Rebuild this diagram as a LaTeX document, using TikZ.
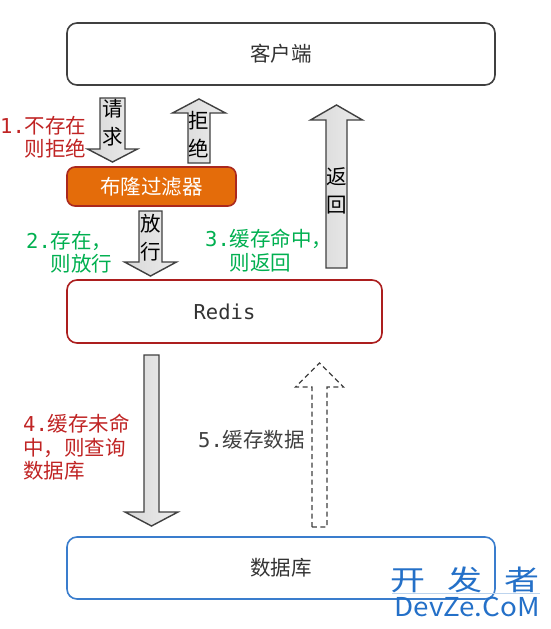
\documentclass[tikz,border=0pt]{standalone}
\usepackage{fontspec}
\setmainfont{Noto Sans CJK SC}
\newfontfamily\monof{DejaVu Sans Mono}
\definecolor{clientline}{RGB}{64,64,64}
\definecolor{bloomfill}{RGB}{228,108,10}
\definecolor{bloomline}{RGB}{170,40,30}
\definecolor{redisline}{RGB}{172,30,30}
\definecolor{dbline}{RGB}{58,125,205}
\definecolor{boxtext}{RGB}{51,51,51}
\definecolor{arrowline}{RGB}{64,64,64}
\definecolor{arrowfill}{RGB}{216,216,216}
\definecolor{arrowfillb}{RGB}{236,236,236}
\definecolor{lblred}{RGB}{192,36,36}
\definecolor{lblgreen}{RGB}{0,176,80}
\definecolor{lblgray}{RGB}{64,64,64}
\definecolor{wmblue}{RGB}{36,112,200}
\newcommand\lblfont{\fontsize{20.5}{23.5}\selectfont}
\newcommand\arrfont{\fontsize{20.5}{28}\selectfont}
\newcommand\mkarrow[7]{%
  \draw[#1] ({#2-#4},#3) -- ({#2-#4},#6) -- ({#2-#5},#6) -- (#2,#7) -- ({#2+#5},#6) -- ({#2+#4},#6) -- ({#2+#4},#3) -- cycle;}
\tikzset{
  boxnode/.style={draw, line width=1.6pt, rounded corners=10pt, inner sep=0pt, font=\lblfont, text=boxtext, fill=white},
  blockarrow/.style={draw=arrowline, line width=1.4pt, left color=arrowfill, right color=arrowfillb, line join=miter},
  dasharrow/.style={draw=arrowline, line width=1.3pt, dash pattern=on 5pt off 3.5pt, fill=white, line join=miter},
  arrtext/.style={font=\arrfont, align=center, inner sep=0pt, text=black},
  lbl/.style={font=\lblfont, align=left, inner sep=0pt},
}
\begin{document}
\begin{tikzpicture}[x=1pt,y=-1pt]
\useasboundingbox (0,0) rectangle (550,629);
\fill[white] (0,0) rectangle (550,629);
% boxes
\node[boxnode, draw=clientline, minimum width=428pt, minimum height=62pt] (client) at (281,54) {客户端};
\node[boxnode, draw=bloomline, fill=bloomfill, text=white, rounded corners=8pt, minimum width=169pt, minimum height=39pt] (bloom) at (151.5,186.5) {布隆过滤器};
\node[boxnode, draw=redisline, minimum width=315pt, minimum height=63pt, font=\lblfont\monof] (redis) at (224.5,311.5) {Redis};
\node[boxnode, draw=dbline, minimum width=428pt, minimum height=62pt] (db) at (281,568) {数据库};
% block arrows
\mkarrow{blockarrow}{112.5}{98}{12.5}{25}{149}{162}
\mkarrow{blockarrow}{199}{163}{11}{26.5}{113}{99}
\mkarrow{blockarrow}{150.5}{211}{11.5}{26}{262}{276}
\mkarrow{blockarrow}{336.5}{268}{10.5}{26}{120}{105}
\mkarrow{blockarrow}{151.5}{355}{7.5}{26.5}{512}{526}
\mkarrow{dasharrow}{319.5}{527}{7.5}{24}{387}{363}
% arrow texts
\node[arrtext] (treq) at (113,123) {请\\求};
\node[arrtext] (trej) at (199,134.5) {拒\\绝};
\node[arrtext] (tpass) at (151,237.5) {放\\行};
\node[arrtext] (tret) at (337,190.5) {返\\回};
% labels
\node[lbl, text=lblred, anchor=north west] (l1) at (0,116) {{\monof 1.}不存在\\\hphantom{\monof 1.}则拒绝};
\node[lbl, text=lblgreen, anchor=north west] (l2) at (26,231) {{\monof 2.}存在，\\\hphantom{\monof 2.}则放行};
\node[lbl, text=lblgreen, anchor=north west] (l3) at (205,229) {{\monof 3.}缓存命中，\\\hphantom{\monof 3.}则返回};
\node[lbl, text=lblred, anchor=north west] (l4) at (23,414) {{\monof 4.}缓存未命\\中，则查询\\数据库};
\node[lbl, text=lblgray, anchor=west] (l5) at (198,440) {{\monof 5.}缓存数据};
% watermark
\draw[wmblue!30, line width=1pt] (392,593) -- (540,593);
\node[inner sep=0pt, text=wmblue, font=\fontsize{28}{30}\selectfont, xscale=1.25] (wm1) at (465,580) {开\hspace{0.62em}发\hspace{0.62em}者};
\node[inner sep=0pt, text=wmblue, font=\fontsize{26}{28}\selectfont, xscale=1.07] (wm2) at (467,607) {DevZe.CoM};
\end{tikzpicture}
\end{document}
